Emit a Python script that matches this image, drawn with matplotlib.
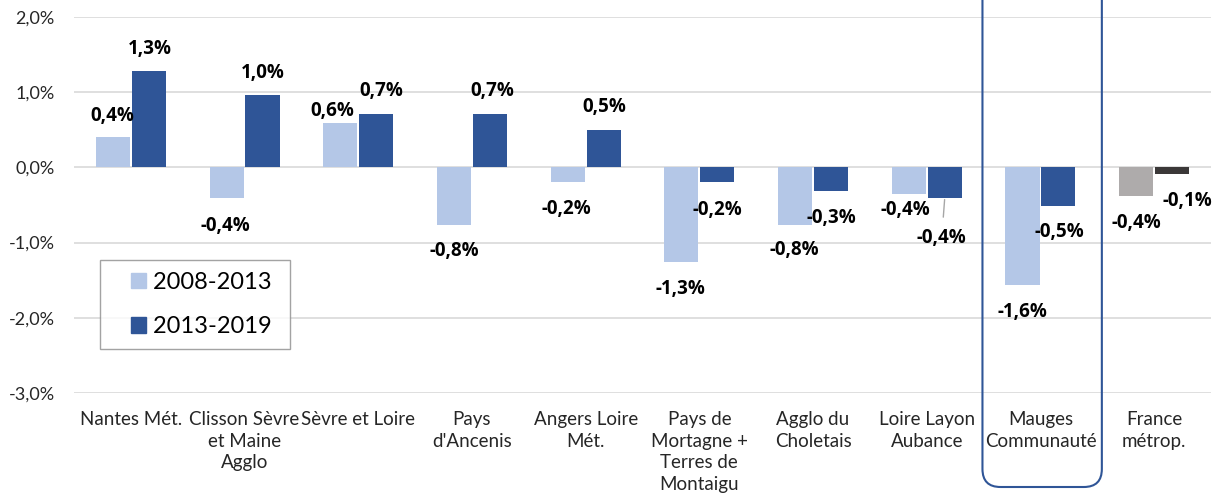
import matplotlib.pyplot as plt
import numpy as np
from matplotlib.patches import FancyBboxPatch, Rectangle, Patch
from matplotlib.legend_handler import HandlerPatch
from matplotlib.transforms import IdentityTransform

plt.rcParams['font.family'] = ['Lato', 'DejaVu Sans']

# Données
categories = ["Nantes Mét.", "Clisson Sèvre\net Maine\nAgglo", "Sèvre et Loire",
              "Pays\nd'Ancenis", "Angers Loire\nMét.", "Pays de\nMortagne +\nTerres de\nMontaigu",
              "Agglo du\nCholetais", "Loire Layon\nAubance", "Mauges\nCommunauté", "France\nmétrop."]
v_2008_2013 = [0.40, -0.41, 0.59, -0.76, -0.20, -1.26, -0.76, -0.36, -1.57, -0.38]
v_2013_2019 = [1.28, 0.96, 0.71, 0.71, 0.50, -0.20, -0.31, -0.41, -0.51, -0.09]
series_names = ["2008-2013", "2013-2019"]
y_ticks = [-3, -2, -1, 0, 1, 2]

# Décalage des étiquettes (pixels) par rapport au bout de la barre
off_light = [(-1, 21), (-1, -28), (-8, 12), (0, -26), (-1, -27),
             (-1, -27), (-1, -25), (-3, -16), (0, -27), (0, -27)]
off_dark = [(1, 22), (0, 22), (5, 23), (2, 23), (1, 23),
            (0, -28), (0, -27), (-3, -40), (1, -26), (15, -27)]

c_light = '#B4C7E7'
c_dark = '#2F5597'
c_light_fr = '#AEABAB'
c_dark_fr = '#3B3838'

fig = plt.figure(figsize=(12.12, 5.0), dpi=100)
ax = fig.add_axes([74 / 1212, 107 / 500, 1137 / 1212, 376 / 500])

x = np.arange(len(categories))
w = 0.30
d = 0.158
cols_l = [c_light] * 9 + [c_light_fr]
cols_d = [c_dark] * 9 + [c_dark_fr]
ax.bar(x - d, v_2008_2013, w, color=cols_l, zorder=3)
ax.bar(x + d, v_2013_2019, w, color=cols_d, zorder=3)

ax.set_xlim(-0.5, len(categories) - 0.5)
ax.set_ylim(-3, 2)
ax.set_yticks(y_ticks)
ax.set_yticklabels([f"{t:.1f}%".replace('.', ',') for t in y_ticks])
ax.set_xticks(x)
ax.set_xticklabels(categories, linespacing=1.33)
ax.tick_params(axis='both', length=0, colors='#262626')
ax.tick_params(axis='x', pad=13, labelsize=13.5)
ax.tick_params(axis='y', pad=14, labelsize=13)
ax.grid(axis='y', color='#D9D9D9', linewidth=1.2, zorder=0)
ax.set_axisbelow(True)
for s in ax.spines.values():
    s.set_visible(False)

def fmt(v):
    return f"{v:.1f}%".replace('.', ',')

for i in range(len(categories)):
    for vals, offs, dx in ((v_2008_2013, off_light, -d), (v_2013_2019, off_dark, d)):
        v = vals[i]
        ox, oy = offs[i]
        kw = {}
        if i == 7 and dx > 0:
            kw['arrowprops'] = dict(arrowstyle='-', color='#A6A6A6', lw=1,
                                    shrinkA=6, shrinkB=1)
        ax.annotate(fmt(v), (x[i] + dx, v), xytext=(ox, oy),
                    textcoords='offset pixels', ha='center', va='center',
                    fontsize=13.5, fontweight='bold', color='black',
                    family=['Open Sans', 'DejaVu Sans'],
                    annotation_clip=False, zorder=5, **kw)

# petit carré aligné à droite de la zone de symbole
def square_right(legend, orig_handle, xdescent, ydescent, width, height, fontsize):
    s = 11.0
    return Rectangle((width - s - xdescent, height / 2 - s / 2 - ydescent), s, s)

handles = [Patch(color=c_light), Patch(color=c_dark)]
leg = ax.legend(handles, [n + ' ' for n in series_names], loc='upper left',
                bbox_to_anchor=(0.0229, 0.354), borderaxespad=0, fontsize=17,
                fancybox=False, frameon=True, edgecolor='#8C8C8C',
                handlelength=1.45, handletextpad=0.3, labelspacing=1.0, borderpad=0.5,
                handler_map={Patch: HandlerPatch(patch_func=square_right)})
leg.get_frame().set_linewidth(1.0)

# Encadré Mauges Communauté
fig.canvas.draw()
x0 = ax.transData.transform((7.49, 0))[0]
x1 = ax.transData.transform((8.54, 0))[0]
box = FancyBboxPatch((x0, 13), x1 - x0, 540, boxstyle='round,pad=0,rounding_size=18',
                     transform=IdentityTransform(), fill=False, edgecolor=c_dark,
                     linewidth=1.5, clip_on=False, zorder=6)
fig.patches.append(box)

fig.savefig('out.png', dpi=100)
